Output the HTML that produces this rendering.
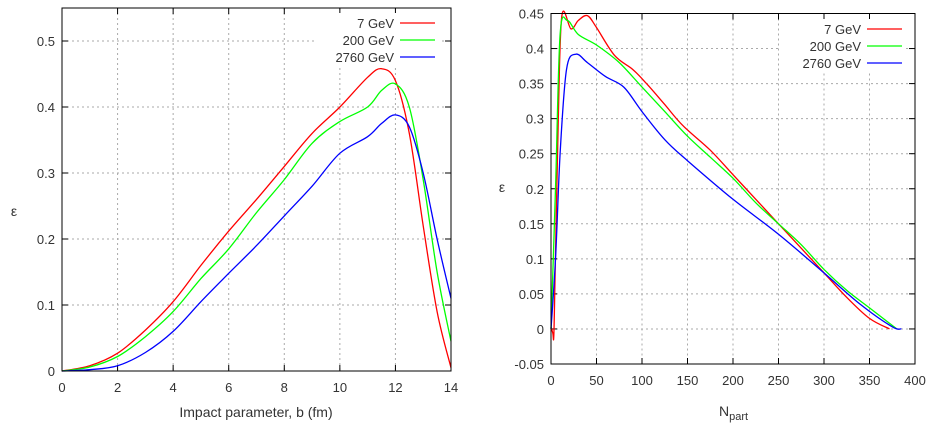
<!DOCTYPE html>
<html><head><meta charset="utf-8"><style>
body{margin:0;background:#fff;}
svg text{font-family:"Liberation Sans",sans-serif;fill:#333;}
</style></head><body>
<svg id="c" width="931" height="428" xmlns="http://www.w3.org/2000/svg"></svg>
<script>
const leftB=[0,1,2,3,4,5,6,7,8,9,10,11,11.5,12,12.5,13,13.5,14];
const leftRed=[0,0.008,0.027,0.062,0.105,0.16,0.212,0.26,0.31,0.36,0.40,0.445,0.458,0.44,0.36,0.22,0.09,0.005];
const leftGreen=[0,0.006,0.022,0.052,0.09,0.14,0.185,0.24,0.29,0.345,0.378,0.40,0.425,0.435,0.40,0.29,0.15,0.045];
const leftBlue=[0,0.002,0.008,0.028,0.06,0.105,0.148,0.19,0.235,0.28,0.33,0.355,0.375,0.388,0.37,0.30,0.2,0.11];
const rRedX=[0,2,3,4,8,12,22,30,40,50,70,90,105,125,145,175,200,225,250,275,300,325,350,372];
const rRedY=[0.003,-0.006,-0.013,0.04,0.3,0.447,0.428,0.44,0.447,0.43,0.39,0.37,0.35,0.32,0.29,0.255,0.22,0.185,0.15,0.115,0.08,0.045,0.015,0];
const rGreenX=[0,5,10,18,30,50,75,100,125,150,175,200,225,250,275,300,325,350,380];
const rGreenY=[0,0.2,0.42,0.44,0.42,0.405,0.38,0.345,0.31,0.275,0.245,0.215,0.18,0.15,0.12,0.085,0.055,0.03,0];
const rBlueX=[0,5,10,17,27,40,60,80,100,125,150,200,250,300,340,375,385];
const rBlueY=[0,0.1,0.25,0.37,0.392,0.38,0.36,0.345,0.31,0.27,0.24,0.185,0.135,0.08,0.035,0.003,0];
const leftXTicks=[0,2,4,6,8,10,12,14];
const leftYTicks=[0,0.1,0.2,0.3,0.4,0.5];
const rightXTicks=[0,50,100,150,200,250,300,350,400];
const rightYTicks=[-0.05,0,0.05,0.1,0.15,0.2,0.25,0.3,0.35,0.4,0.45];
const legendLabels=['7 GeV','200 GeV','2760 GeV'];
const colors=['#ff0000','#00ff00','#0000ff'];

const svg=document.getElementById('c');
const NS='http://www.w3.org/2000/svg';
function mk(t,a){const e=document.createElementNS(NS,t);for(const k in a)e.setAttribute(k,a[k]);svg.appendChild(e);return e;}
function path(xs,ys,sx,sy){
  const p=xs.map((x,i)=>[sx(x),sy(ys[i])]);
  let d='M'+p[0][0].toFixed(1)+','+p[0][1].toFixed(1);
  for(let i=0;i<p.length-1;i++){
    const p0=p[Math.max(0,i-1)],p1=p[i],p2=p[i+1],p3=p[Math.min(p.length-1,i+2)];
    const c1=[p1[0]+(p2[0]-p0[0])/6,p1[1]+(p2[1]-p0[1])/6];
    const c2=[p2[0]-(p3[0]-p1[0])/6,p2[1]-(p3[1]-p1[1])/6];
    d+='C'+c1.map(v=>v.toFixed(1))+' '+c2.map(v=>v.toFixed(1))+' '+p2.map(v=>v.toFixed(1));
  }
  return d;
}
function panel(o){
  const sx=v=>o.x0+(v-o.xmin)/(o.xmax-o.xmin)*(o.x1-o.x0);
  const sy=v=>o.y0-(v-o.ymin)/(o.ymax-o.ymin)*(o.y0-o.y1);
  o.xt.forEach(t=>{
    const x=sx(t);
    if(t>o.xmin&&t<o.xmax){const g=mk('line',{x1:x,x2:x,y1:o.y1,y2:o.y0,stroke:'#aaa','stroke-dasharray':'2,3','stroke-width':1});
    }
    const tk=mk('line',{x1:x,x2:x,y1:o.y0,y2:o.y0-6,stroke:'#000'});
    const tk2=mk('line',{x1:x,x2:x,y1:o.y1,y2:o.y1+6,stroke:'#000'});
    const tx=mk('text',{x:x,y:o.y0+21,'text-anchor':'middle','font-size':13});tx.textContent=t;
    
  });
  o.yt.forEach(t=>{
    const y=sy(t);
    if(t>o.ymin&&t<o.ymax){const g=mk('line',{x1:o.x0,x2:o.x1,y1:y,y2:y,stroke:'#aaa','stroke-dasharray':'2,3','stroke-width':1});
    }
    const tk=mk('line',{x1:o.x0,x2:o.x0+6,y1:y,y2:y,stroke:'#000'});
    const tk2=mk('line',{x1:o.x1,x2:o.x1-6,y1:y,y2:y,stroke:'#000'});
    const tx=mk('text',{x:o.x0-7,y:y+5,'text-anchor':'end','font-size':13});tx.textContent=String(t);
    
  });
  const lb=mk('rect',{x:o.lx-80,y:o.ly-10,width:125,height:54,fill:'#fff'});
  
  o.series.forEach((s,i)=>{
    const p=mk('path',{d:path(s[0],s[1],sx,sy),fill:'none',stroke:colors[i],'stroke-width':1.3});
    
    const ly=o.ly+i*17;
    const t=mk('text',{x:o.lx,y:ly+5,'text-anchor':'end','font-size':13});t.textContent=legendLabels[i];
    
    const l=mk('line',{x1:o.lx+6,x2:o.lx+41,y1:ly,y2:ly,stroke:colors[i],'stroke-width':1.3});
    
  });
  const f=mk('rect',{x:o.x0,y:o.y1,width:o.x1-o.x0,height:o.y0-o.y1,fill:'none',stroke:'#000'});
  
}
panel({x0:62,x1:451,y0:371,y1:8,xmin:0,xmax:14,ymin:0,ymax:0.55,xt:leftXTicks,yt:leftYTicks,lx:394,ly:23,
  series:[[leftB,leftRed],[leftB,leftGreen],[leftB,leftBlue]]});
panel({x0:551,x1:915,y0:364,y1:13.5,xmin:0,xmax:400,ymin:-0.05,ymax:0.45,xt:rightXTicks,yt:rightYTicks,lx:861,ly:29,
  series:[[rRedX,rRedY],[rGreenX,rGreenY],[rBlueX,rBlueY]]});
</script>
<svg width="931" height="428" style="position:absolute;left:0;top:0" xmlns="http://www.w3.org/2000/svg">
<text x="256" y="417" text-anchor="middle" font-size="14">Impact parameter, b (fm)</text>
<text x="14" y="216" text-anchor="middle" font-size="14">ε</text>
<text x="502" y="192" text-anchor="middle" font-size="14">ε</text>
<text x="719" y="416" font-size="14">N<tspan font-size="11" dy="4">part</tspan></text>
</svg>
</body></html>
